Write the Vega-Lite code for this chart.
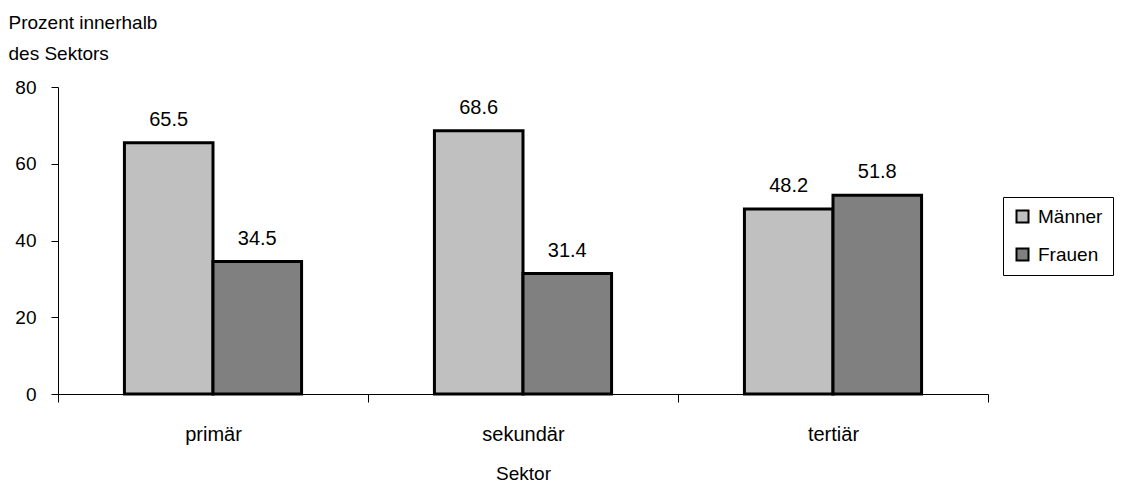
{
  "$schema": "https://vega.github.io/schema/vega-lite/v6.json",
  "width": 930,
  "height": 307,
  "autosize": {"type": "none"},
  "padding": {"left": 58, "top": 87, "right": 150, "bottom": 90},
  "background": "white",
  "config": {
    "font": "Liberation Sans",
    "view": {"stroke": null},
    "axis": {
      "grid": false,
      "domainColor": "#000",
      "tickColor": "#000",
      "labelColor": "#000",
      "titleColor": "#000",
      "labelFont": "Liberation Sans",
      "titleFont": "Liberation Sans",
      "titleFontWeight": "normal",
      "labelFontSize": 19,
      "titleFontSize": 19
    }
  },
  "data": {
    "values": [
      {"Sektor": "primär", "Geschlecht": "Männer", "Prozent": 65.5},
      {"Sektor": "primär", "Geschlecht": "Frauen", "Prozent": 34.5},
      {"Sektor": "sekundär", "Geschlecht": "Männer", "Prozent": 68.6},
      {"Sektor": "sekundär", "Geschlecht": "Frauen", "Prozent": 31.4},
      {"Sektor": "tertiär", "Geschlecht": "Männer", "Prozent": 48.2},
      {"Sektor": "tertiär", "Geschlecht": "Frauen", "Prozent": 51.8}
    ]
  },
  "encoding": {
    "x": {
      "field": "Sektor",
      "type": "nominal",
      "sort": ["primär", "sekundär", "tertiär"],
      "scale": {"paddingInner": 0, "paddingOuter": 0},
      "axis": {
        "title": "Sektor",
        "labelAngle": 0,
        "labelFontSize": 20,
        "tickBand": "extent",
        "tickSize": 8,
        "labelPadding": 22,
        "titlePadding": 20
      }
    },
    "xOffset": {
      "field": "Geschlecht",
      "type": "nominal",
      "sort": ["Männer", "Frauen"],
      "scale": {"paddingInner": 0, "paddingOuter": 0.75}
    },
    "y": {
      "field": "Prozent",
      "type": "quantitative",
      "scale": {"domain": [0, 80], "nice": false},
      "axis": {
        "values": [0, 20, 40, 60, 80],
        "tickSize": 7,
        "labelPadding": 15,
        "title": ["Prozent innerhalb", "des Sektors"],
        "titleAngle": 0,
        "titleAlign": "left",
        "titleBaseline": "alphabetic",
        "titleX": -50,
        "titleY": -59,
        "titleLineHeight": 31
      }
    }
  },
  "layer": [
    {
      "mark": {"type": "bar", "stroke": "#000", "strokeWidth": 3},
      "encoding": {
        "fill": {
          "field": "Geschlecht",
          "type": "nominal",
          "sort": ["Männer", "Frauen"],
          "scale": {"domain": ["Männer", "Frauen"], "range": ["#C0C0C0", "#808080"]},
          "legend": {
            "orient": "none",
            "legendX": 945,
            "legendY": 110,
            "title": null,
            "symbolType": "square",
            "symbolSize": 144,
            "symbolStrokeColor": "#000",
            "symbolStrokeWidth": 2,
            "labelFont": "Liberation Sans",
            "labelFontSize": 19,
            "labelColor": "#000",
            "labelOffset": 6,
            "padding": 10,
            "rowPadding": 17,
            "strokeColor": "#000",
            "fillColor": "white"
          }
        }
      }
    },
    {
      "mark": {"type": "text", "baseline": "alphabetic", "dy": -17, "fontSize": 20, "color": "#000"},
      "encoding": {
        "text": {"field": "Prozent", "type": "quantitative", "format": ".1f"}
      }
    }
  ]
}
